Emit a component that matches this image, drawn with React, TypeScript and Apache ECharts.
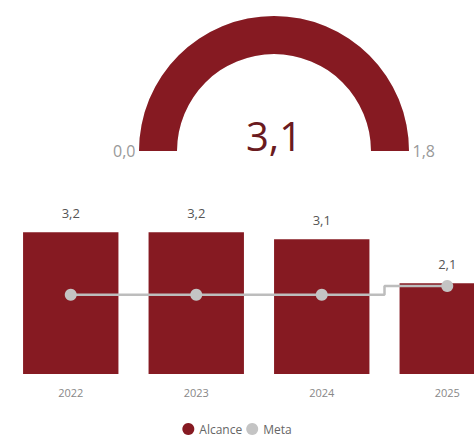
import React, { useEffect, useRef } from "react";
import * as echarts from "echarts";

const categories = ["2022", "2023", "2024", "2025"];
const alcance = [3.22, 3.22, 3.06, 2.06];
const meta = [1.8, 1.8, 1.8, 2.0];
const gaugeValue = [3.1];
const gaugeMin = 0;
const gaugeMax = 1.8;
const seriesNames = ["Alcance", "Meta"];

const RED = "#861a22";
const GRAY = "#c4c4c4";
const FONT = "'Open Sans', 'Noto Sans', sans-serif";
const fmt = (v: number) => Number(v).toFixed(1).replace(".", ",");

export default function App() {
  const ref = useRef<HTMLDivElement>(null);
  useEffect(() => {
    if (!ref.current) return;
    const chart = echarts.init(ref.current, undefined, { renderer: "svg" });
    chart.setOption({
      animation: false,
      textStyle: { fontFamily: FONT },
      legend: {
        data: seriesNames,
        left: "center",
        top: 423,
        padding: 0,
        icon: "circle",
        itemWidth: 12,
        itemHeight: 12,
        itemGap: 4,
        textStyle: { color: "#666", fontSize: 12, fontFamily: FONT },
      },
      grid: {
        left: 8,
        width: 502,
        top: 198,
        height: 176,
        containLabel: false,
        outerBoundsMode: "none",
      },
      xAxis: {
        type: "category",
        data: categories,
        axisLine: { show: false },
        axisTick: { show: false },
        axisLabel: { color: "#888", fontSize: 11, margin: 13, fontFamily: FONT },
      },
      yAxis: { type: "value", min: 0, max: 4, show: false, splitLine: { show: false } },
      series: [
        {
          type: "gauge",
          center: [274, 151],
          radius: 135,
          startAngle: 180,
          endAngle: 0,
          min: gaugeMin,
          max: gaugeMax,
          splitNumber: 1,
          axisLine: { lineStyle: { width: 38, color: [[1, "#e6e6e6"]] } },
          progress: { show: true, width: 38, clip: true, itemStyle: { color: RED } },
          pointer: { show: false },
          axisTick: { show: false },
          splitLine: { show: false },
          axisLabel: {
            distance: -46,
            color: "#999",
            fontSize: 16,
            fontFamily: FONT,
            formatter: (v: number) => fmt(v),
          },
          title: { show: false },
          detail: {
            offsetCenter: [0, -16],
            fontSize: 40,
            color: "#6a1a20",
            fontFamily: FONT,
            fontWeight: "normal",
            formatter: (v: number) => fmt(v),
          },
          data: [{ value: gaugeValue[0], name: "" }],
        },
        {
          name: seriesNames[0],
          type: "bar",
          data: alcance,
          barCategoryGap: "24%",
          itemStyle: { color: RED },
          label: {
            show: true,
            position: "top",
            distance: 13,
            color: "#555",
            fontSize: 13,
            fontFamily: FONT,
            formatter: (p: any) => fmt(p.value),
          },
        },
        {
          name: seriesNames[1],
          type: "line",
          data: meta,
          step: "middle",
          symbol: "circle",
          symbolSize: 12,
          lineStyle: { color: "#bdbdbd", width: 2.5 },
          itemStyle: { color: GRAY },
          z: 5,
        },
      ],
    });
    return () => chart.dispose();
  }, []);
  return (
    <div
      ref={ref}
      style={{ position: "fixed", left: 0, top: 0, width: 474, height: 444, background: "#fff" }}
    />
  );
}
